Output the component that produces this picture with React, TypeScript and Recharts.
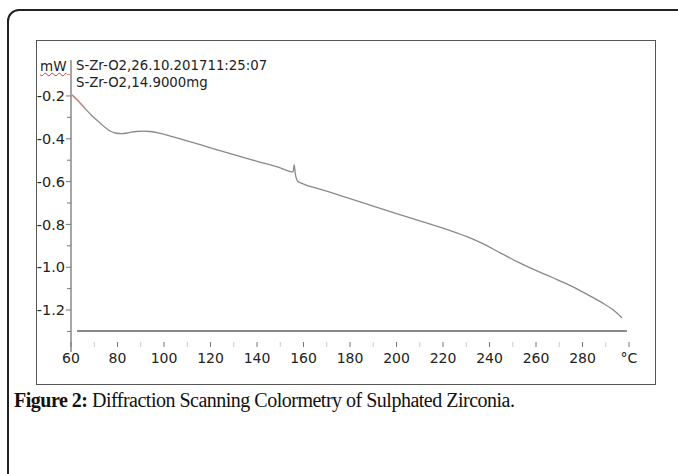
import { LineChart, Line, XAxis, YAxis, ReferenceLine } from 'recharts';

// temperature (°C) and heat flow (mW)
const temps = [
    60.5, 63, 66, 69, 72.5, 75, 77, 79, 82, 85, 88, 91, 94, 98, 102, 110, 120, 130, 140, 150,
    155.5, 156, 156.5, 157.6, 159, 170, 180, 190, 200, 210, 220, 230, 236, 245, 253, 260, 267,
    275, 282, 288, 293, 297,
];
const heatFlow = [
    -0.195, -0.222, -0.258, -0.292, -0.326, -0.35, -0.365, -0.373, -0.376, -0.371, -0.366, -0.364,
    -0.366, -0.374, -0.385, -0.41, -0.442, -0.474, -0.505, -0.536,
    -0.555, -0.522, -0.565, -0.6, -0.607, -0.645, -0.68, -0.715, -0.75, -0.783, -0.817, -0.856,
    -0.884, -0.935, -0.98, -1.015, -1.048, -1.087, -1.127, -1.163, -1.198, -1.237,
];
// the first few points of the trace are drawn in red
const redPoints = 3;

const xTicks = [60, 70, 80, 90, 100, 110, 120, 130, 140, 150, 160, 170, 180, 190, 200, 210, 220, 230, 240, 250, 260, 270, 280, 290, 300];
const xLabels = ['60', '80', '100', '120', '140', '160', '180', '200', '220', '240', '260', '280', '°C'];
const yTicks = [-1.3, -1.2, -1.1, -1.0, -0.9, -0.8, -0.7, -0.6, -0.5, -0.4, -0.3, -0.2, -0.1];
const yLabels = ['-1.2', '-1.0', '-0.8', '-0.6', '-0.4', '-0.2'];
const baselineY = -1.298;

const data = temps.map((t, i) => ({
    t,
    v: heatFlow[i],
    red: i < redPoints ? heatFlow[i] : null,
}));

const FONT = '"DejaVu Sans", Verdana, sans-serif';

const XTick = (props: any) => {
    const { x, y, payload } = props;
    const i = (payload.value - 60) / 10;
    const major = i % 2 === 0;
    return (
        <g>
            <line x1={x} x2={x} y1={y - 10} y2={y - 5} stroke={major ? '#777' : '#ccc'} strokeWidth={1} />
            {major && (
                <text x={x} y={y + 11} textAnchor="middle" fontSize={14} fontFamily={FONT} fill="#222">
                    {xLabels[i / 2]}
                </text>
            )}
        </g>
    );
};

const YTick = (props: any) => {
    const { x, y, payload } = props;
    const v = payload.value.toFixed(1);
    const label = yLabels.includes(v) ? v : null;
    return (
        <g>
            <line x1={x - (label ? 5 : 4)} x2={x} y1={y} y2={y} stroke={v === '-0.1' ? '#e08a8a' : '#777'} strokeWidth={1} />
            {label && (
                <text x={x - 6} y={y} dy="0.36em" textAnchor="end" fontSize={14.5} fontFamily={FONT} fill="#222">
                    {label}
                </text>
            )}
        </g>
    );
};

export default function App() {
    return (
        <div style={{ position: 'absolute', left: 0, top: 0, width: 678, height: 474, overflow: 'hidden', background: '#fff' }}>
            <div style={{ position: 'absolute', left: 7, top: 9, width: 700, height: 500, border: '2px solid #222', borderRadius: 12 }} />
            <div style={{ position: 'absolute', left: 36, top: 40, width: 618, height: 343, border: '1px solid #555' }} />
            <div style={{ position: 'absolute', left: 0, top: 0 }}>
                <LineChart width={678} height={474} data={data} margin={{ top: 60, right: 49, bottom: 92, left: 11 }}>
                    <XAxis
                        dataKey="t"
                        type="number"
                        domain={[60, 300]}
                        ticks={xTicks}
                        interval={0}
                        axisLine={false}
                        tickLine={false}
                        tickSize={0}
                        tickMargin={0}
                        height={30}
                        tick={<XTick />}
                    />
                    <YAxis
                        type="number"
                        domain={[-1.396, -0.032]}
                        ticks={yTicks}
                        interval={0}
                        width={60}
                        axisLine={{ stroke: '#888', strokeWidth: 1.5 }}
                        tickLine={false}
                        tickSize={0}
                        tickMargin={0}
                        tick={<YTick />}
                    />
                    <ReferenceLine
                        segment={[{ x: 62.6, y: baselineY }, { x: 299.1, y: baselineY }]}
                        stroke="#888"
                        strokeWidth={2}
                    />
                    <Line dataKey="v" stroke="#8a8a8a" strokeWidth={1.3} dot={false} type="monotone" isAnimationActive={false} />
                    <Line dataKey="red" stroke="#e07a7a" strokeWidth={1.3} dot={false} type="monotone" connectNulls={false} isAnimationActive={false} />
                </LineChart>
            </div>
            <div style={{ position: 'absolute', left: 40, top: 58, fontFamily: FONT, fontSize: 13.5, lineHeight: '16px', color: '#222', textDecoration: 'underline wavy #d33', textDecorationThickness: 1 }}>
                mW
            </div>
            <div style={{ position: 'absolute', left: 76, top: 58, fontFamily: FONT, fontSize: 13.3, lineHeight: '16px', color: '#222', whiteSpace: 'nowrap' }}>
                S-Zr-O2,26.10.201711:25:07
            </div>
            <div style={{ position: 'absolute', left: 76, top: 75, fontFamily: FONT, fontSize: 13.3, lineHeight: '16px', color: '#222', whiteSpace: 'nowrap' }}>
                S-Zr-O2,14.9000mg
            </div>
            <div style={{ position: 'absolute', left: 14, top: 388, fontFamily: '"Liberation Serif", serif', fontSize: 20, letterSpacing: -0.5, lineHeight: '24px', color: '#111', whiteSpace: 'nowrap' }}>
                <b>Figure 2:</b> Diffraction Scanning Colormetry of Sulphated Zirconia.
            </div>
        </div>
    );
}
